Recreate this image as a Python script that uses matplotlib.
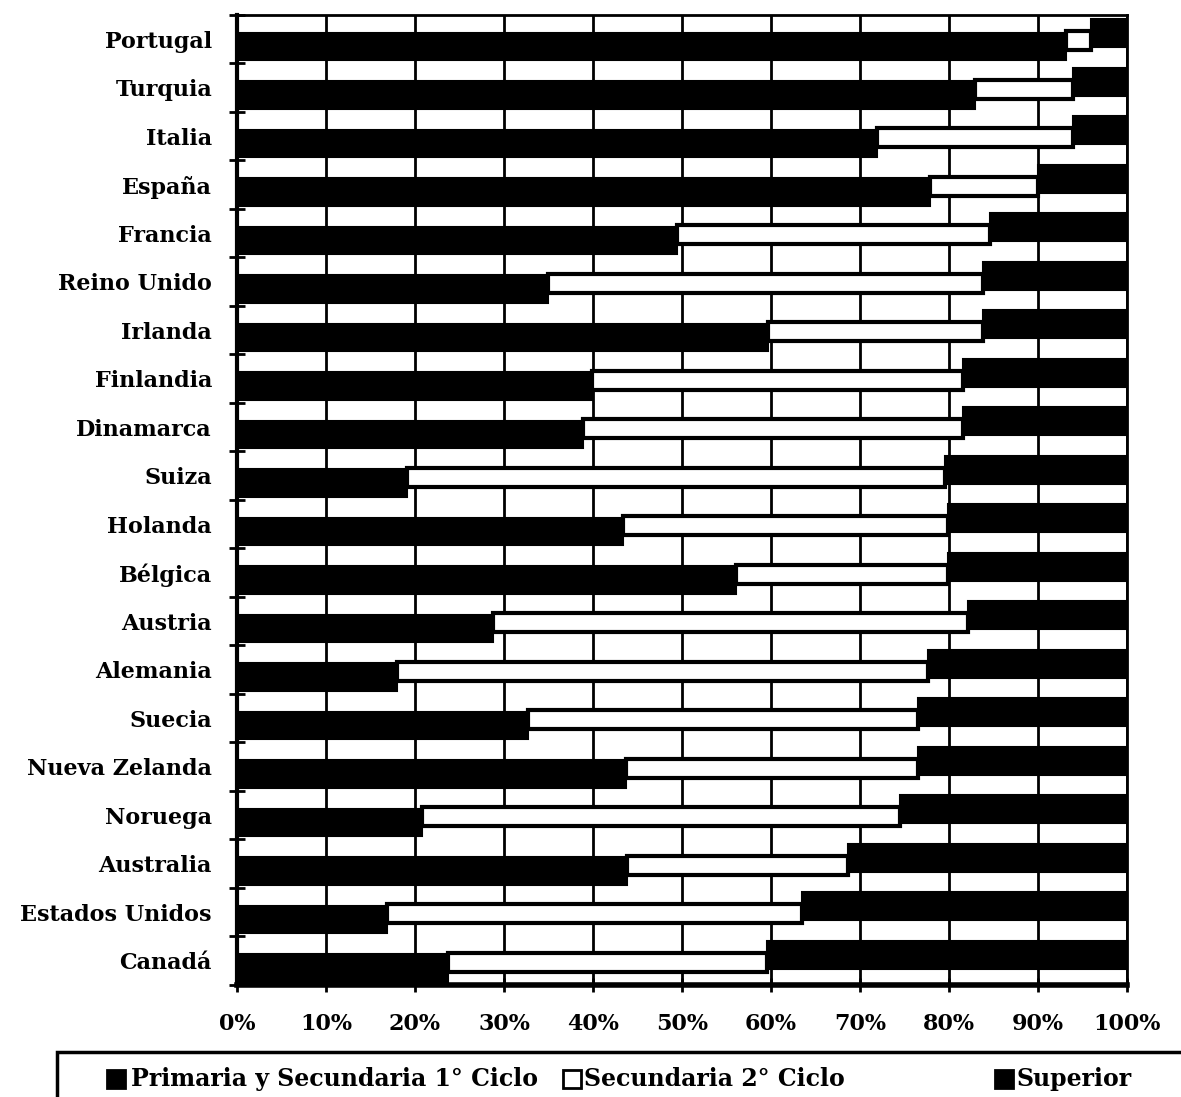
import matplotlib
matplotlib.use('Agg')
import matplotlib.pyplot as plt
import numpy as np
from matplotlib.patches import Rectangle

countries = ["Portugal", "Turquia", "Italia", "España", "Francia", "Reino Unido",
             "Irlanda", "Finlandia", "Dinamarca", "Suiza", "Holanda", "Bélgica",
             "Austria", "Alemania", "Suecia", "Nueva Zelanda", "Noruega",
             "Australia", "Estados Unidos", "Canadá"]
primaria = [93.2, 82.9, 71.9, 77.9, 49.4, 34.9, 59.7, 39.9, 38.9, 19.1,
            43.4, 56.1, 28.8, 18.0, 32.7, 43.7, 20.8, 43.8, 16.8, 23.7]
secundaria2 = [2.8, 11.0, 22.0, 12.1, 35.2, 48.9, 24.1, 41.7, 42.7, 60.5,
               36.5, 23.8, 53.3, 59.6, 43.8, 32.8, 53.7, 24.9, 46.7, 35.9]
superior = [4.0, 6.1, 6.1, 10.0, 15.4, 16.2, 16.2, 18.4, 18.4, 20.4,
            20.1, 20.1, 17.9, 22.4, 23.5, 23.5, 25.5, 31.3, 36.5, 40.4]
xticklabels = ["0%", "10%", "20%", "30%", "40%", "50%", "60%", "70%", "80%", "90%", "100%"]
legend_labels = ["Primaria y Secundaria 1° Ciclo", "Secundaria 2° Ciclo", "Superior"]

FONT = "DejaVu Serif"
W, H = 1181, 1097
fig = plt.figure(figsize=(W / 100, H / 100), dpi=100)
ax = fig.add_axes([237 / W, 1 - 985 / H, (1127 - 237) / W, (985 - 15) / H])

y = np.arange(len(countries))
prim = np.array(primaria)
sec = np.array(secundaria2)
sup = np.array(superior)

ax.barh(y + 0.15, prim, height=0.57, color='black', edgecolor='black', lw=1.5, zorder=3)
ax.barh(y + 0.03, sec, left=prim, height=0.40, color='white', edgecolor='black', lw=3, zorder=3)
ax.barh(y - 0.12, sup, left=prim + sec, height=0.58, color='black', edgecolor='black', lw=1.5, zorder=3)

ax.set_xlim(0, 100)
ax.set_ylim(len(countries) - 0.5, -0.5)

ax.set_axisbelow(True)
ax.set_xticks(np.arange(0, 101, 10))
ax.set_xticklabels(xticklabels, fontfamily=FONT, fontweight='bold', fontsize=16)
ax.xaxis.grid(True, color='black', lw=2)
ax.tick_params(axis='x', direction='inout', length=10, width=2, pad=15)

ax.set_yticks(y)
ax.set_yticklabels(countries, fontfamily=FONT, fontweight='bold', fontsize=16)
ax.tick_params(axis='y', which='major', length=0, pad=18)
ax.set_yticks(np.arange(-0.5, len(countries), 1), minor=True)
ax.tick_params(axis='y', which='minor', direction='inout', length=12, width=2)

ax.spines['left'].set_linewidth(3)
ax.spines['bottom'].set_linewidth(4)
ax.spines['top'].set_linewidth(2)
ax.spines['right'].set_linewidth(2)

# legend box
fig.patches.append(Rectangle((57 / W, -0.05), 1.0, 0.05 + 1 - 1052 / H,
                             transform=fig.transFigure, fill=False,
                             edgecolor='black', lw=2.5, clip_on=False))
ly = 1 - 1079 / H
sq = 18
handles = [(107, 'black'), (563, 'white'), (995, 'black')]
text_x = [131, 584, 1016]
for (hx, col), tx, lab in zip(handles, text_x, legend_labels):
    fig.patches.append(Rectangle((hx / W, (H - 1088) / H), sq / W, sq / H,
                                 transform=fig.transFigure, facecolor=col,
                                 edgecolor='black', lw=2))
    fig.text(tx / W, ly, lab, fontfamily=FONT, fontweight='bold', fontsize=17,
             ha='left', va='center')

fig.savefig('out.png', dpi=100)
